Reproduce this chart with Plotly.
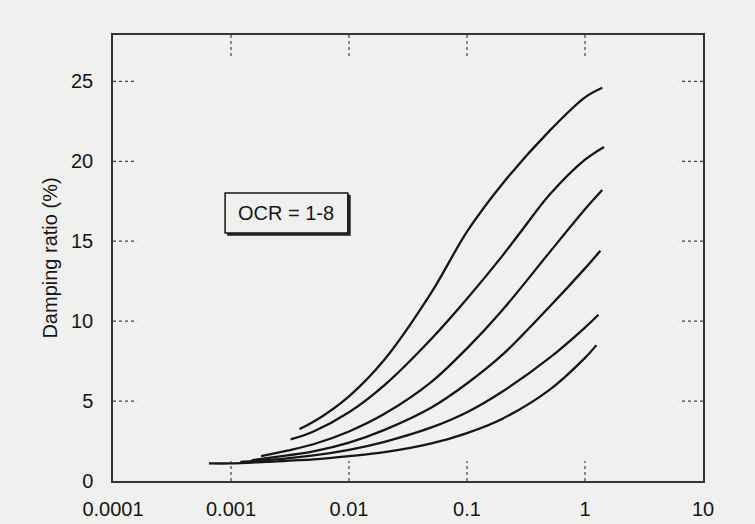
import plotly.graph_objects as go

# ---- data ----
pi_labels = ["PI =0", "15", "30", "50", "100", "200"]

strain_pi0 = [0.0038, 0.005, 0.01, 0.02, 0.05, 0.1, 0.2, 0.5, 1.0, 1.4]
damp_pi0 = [3.25, 3.7, 5.3, 7.6, 11.8, 15.6, 18.6, 21.9, 24.0, 24.6]

strain_pi15 = [0.0032, 0.005, 0.01, 0.02, 0.05, 0.1, 0.2, 0.3, 0.5, 1.0, 1.45]
damp_pi15 = [2.6, 3.1, 4.3, 6.0, 8.9, 11.4, 14.1, 15.8, 17.9, 20.1, 20.9]

strain_pi30 = [0.0018, 0.003, 0.005, 0.01, 0.02, 0.05, 0.1, 0.2, 0.5, 1.0, 1.4]
damp_pi30 = [1.55, 1.9, 2.3, 3.1, 4.2, 6.2, 8.3, 10.7, 14.3, 17.0, 18.2]

strain_pi50 = [0.0015, 0.003, 0.005, 0.01, 0.02, 0.05, 0.1, 0.2, 0.5, 1.0, 1.35]
damp_pi50 = [1.3, 1.6, 1.85, 2.4, 3.2, 4.6, 6.1, 7.9, 10.9, 13.3, 14.4]

strain_pi100 = [0.0012, 0.002, 0.005, 0.01, 0.02, 0.05, 0.1, 0.2, 0.5, 1.0, 1.3]
damp_pi100 = [1.2, 1.3, 1.6, 1.95, 2.45, 3.35, 4.3, 5.6, 7.7, 9.6, 10.4]

strain_pi200 = [0.00065, 0.001, 0.002, 0.005, 0.01, 0.02, 0.05, 0.1, 0.2, 0.5, 1.0, 1.25]
damp_pi200 = [1.1, 1.1, 1.2, 1.35, 1.55, 1.8, 2.35, 3.0, 3.9, 5.7, 7.7, 8.5]

label_x = [1.9, 1.9, 1.9, 1.9, 1.9, 1.9]
label_y = [24.4, 21.2, 18.0, 14.8, 11.6, 8.4]

x_tickvals = [0.0001, 0.001, 0.01, 0.1, 1, 10]
x_ticktext = ["0.0001", "0.001", "0.01", "0.1", "1", "10"]
y_tickvals = [0, 5, 10, 15, 20, 25]
y_ticktext = ["0", "5", "10", "15", "20", "25"]
inner_x_ticks = [0.001, 0.01, 0.1, 1]
inner_y_ticks = [5, 10, 15, 20, 25]

ocr_text = "OCR = 1-8"
y_title = "Damping ratio (%)"

# ---- figure ----
BG = "#f0f0ee"
INK = "#161616"
FONT = "Liberation Sans, Arial, sans-serif"
FS = 20

series = [
    (strain_pi0, damp_pi0),
    (strain_pi15, damp_pi15),
    (strain_pi30, damp_pi30),
    (strain_pi50, damp_pi50),
    (strain_pi100, damp_pi100),
    (strain_pi200, damp_pi200),
]

fig = go.Figure()
for (xs, ys), name in zip(series, pi_labels):
    fig.add_trace(go.Scatter(
        x=xs, y=ys, mode="lines", name=name,
        line=dict(color=INK, width=2.3, shape="spline", smoothing=0.9),
        showlegend=False, hoverinfo="skip",
    ))

for lx, ly, txt in zip(label_x, label_y, pi_labels):
    fig.add_annotation(x=lx, y=ly, xref="x", yref="y", text=txt,
                       showarrow=False, xanchor="left", yanchor="middle",
                       font=dict(size=FS, color=INK, family=FONT))

# dotted inner tick marks on all four sides
shapes = []
for v in inner_x_ticks:
    shapes.append(dict(type="line", xref="x", yref="y domain", x0=v, x1=v, y0=0, y1=0.045,
                       line=dict(color="#444", width=1.2, dash="dot")))
    shapes.append(dict(type="line", xref="x", yref="y domain", x0=v, x1=v, y0=1, y1=0.953,
                       line=dict(color="#444", width=1.2, dash="dot")))
for v in inner_y_ticks:
    shapes.append(dict(type="line", xref="x domain", yref="y", x0=0, x1=0.041, y0=v, y1=v,
                       line=dict(color="#444", width=1.2, dash="dot")))
    shapes.append(dict(type="line", xref="x domain", yref="y", x0=1, x1=0.959, y0=v, y1=v,
                       line=dict(color="#444", width=1.2, dash="dot")))

# OCR box with drop shadow
bx0, bx1, by0, by1 = 0.19, 0.398, 0.556, 0.646
shapes.append(dict(type="rect", xref="x domain", yref="y domain",
                   x0=bx0 + 0.004, x1=bx1 + 0.004, y0=by0 - 0.005, y1=by1 - 0.005,
                   fillcolor="#2a2a2a", line=dict(color="#2a2a2a", width=1)))
shapes.append(dict(type="rect", xref="x domain", yref="y domain",
                   x0=bx0, x1=bx1, y0=by0, y1=by1,
                   fillcolor=BG, line=dict(color=INK, width=1.5)))
fig.add_annotation(x=(bx0 + bx1) / 2, y=(by0 + by1) / 2, xref="x domain", yref="y domain",
                   text=ocr_text, showarrow=False, xanchor="center", yanchor="middle",
                   font=dict(size=FS, color=INK, family=FONT))

fig.update_layout(
    width=755, height=524,
    margin=dict(l=113, r=52, t=35, b=43, autoexpand=False),
    paper_bgcolor=BG, plot_bgcolor=BG,
    font=dict(family=FONT, size=FS, color=INK),
    shapes=shapes,
)
fig.update_xaxes(type="log", range=[-4, 1], tickvals=x_tickvals, ticktext=x_ticktext,
                 showgrid=False, zeroline=False, showline=True, mirror=True,
                 linecolor="#333", linewidth=1.5, ticks="", ticklabelstandoff=9,
                 automargin=False, tickfont=dict(size=FS))
fig.update_yaxes(range=[0, 27.9], tickvals=y_tickvals, ticktext=y_ticktext,
                 showgrid=False, zeroline=False, showline=True, mirror=True,
                 linecolor="#333", linewidth=1.5, ticks="", ticklabelstandoff=14,
                 automargin=False, tickfont=dict(size=FS),
                 title=dict(text=y_title, standoff=8, font=dict(size=FS)))

fig.write_html("out.html")
